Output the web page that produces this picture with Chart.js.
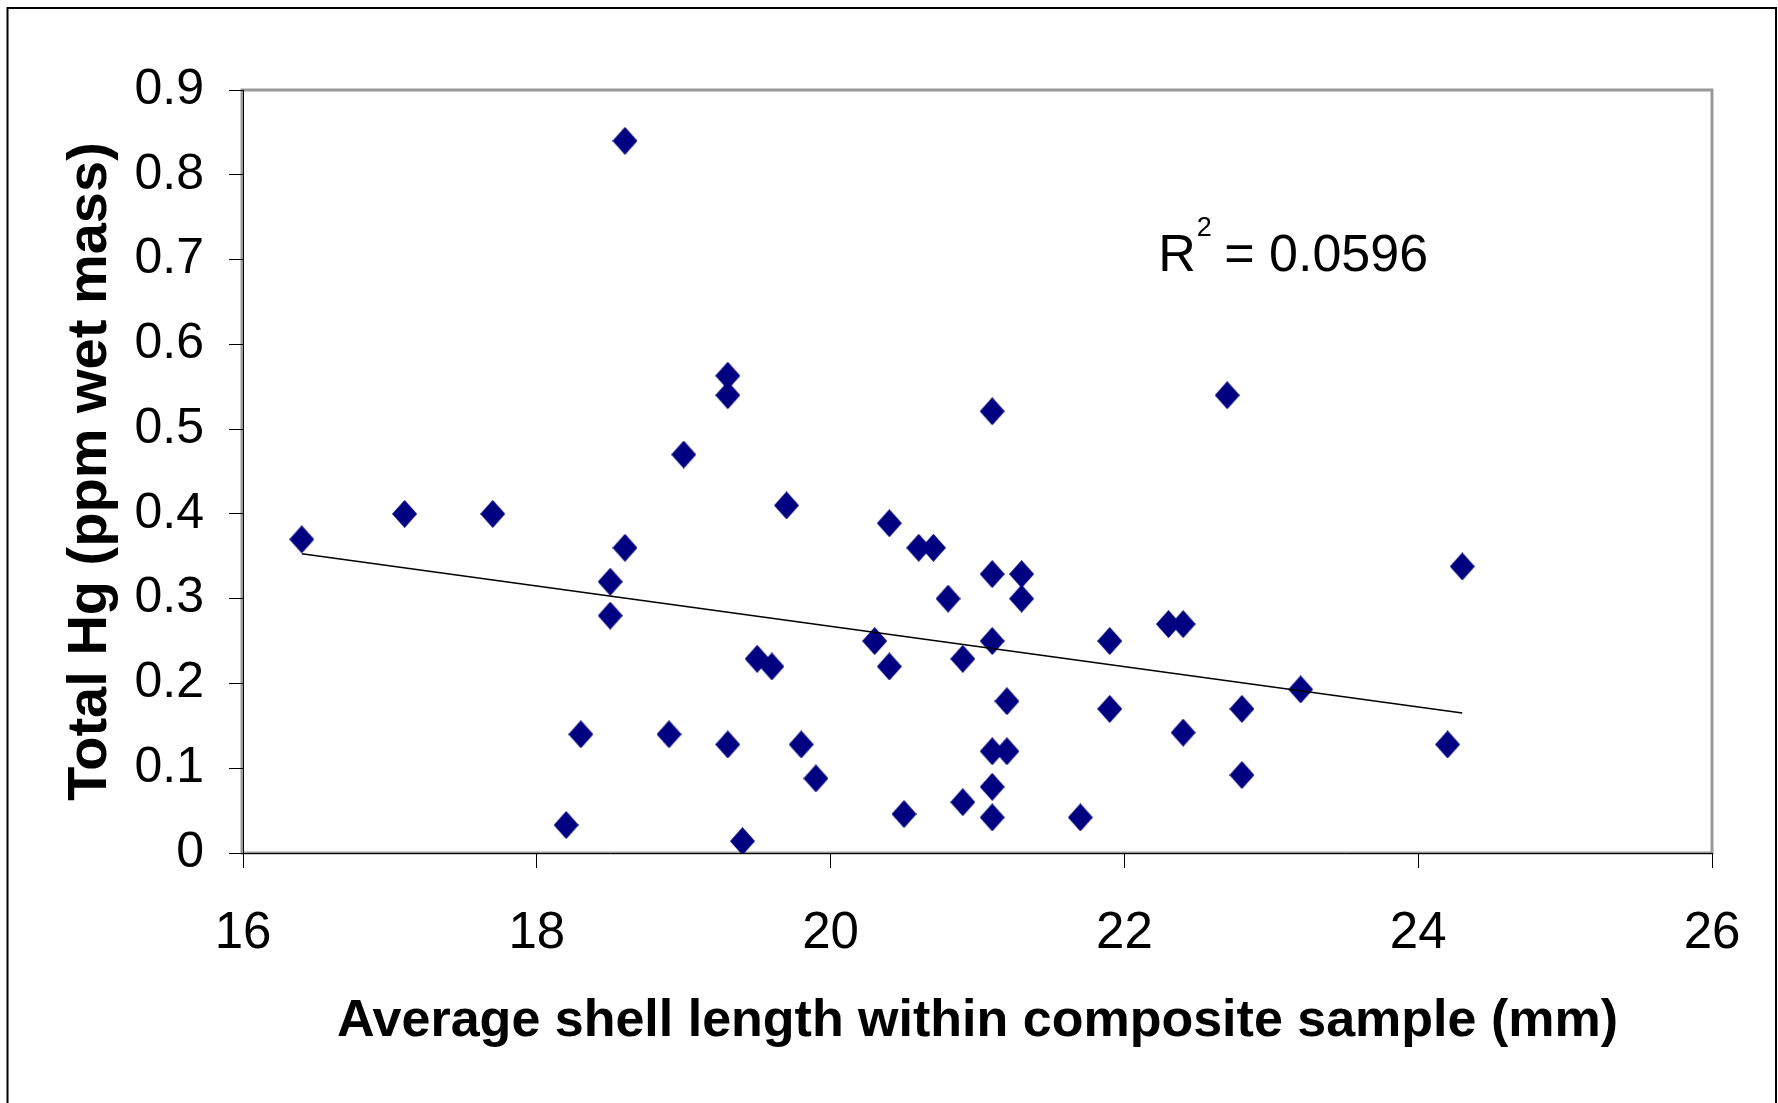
<!DOCTYPE html>
<html>
<head>
<meta charset="utf-8">
<script src="https://cdn.jsdelivr.net/npm/chart.js@4.4.1/dist/chart.umd.min.js"></script>
<style>
  html, body { margin: 0; padding: 0; background: #fff; }
  #wrap { width: 1778px; height: 1103px; position: relative; }
</style>
</head>
<body>
<div id="wrap"><canvas id="chart" width="1778" height="1103"></canvas></div>
<script>
// shell length (mm) and total Hg (ppm wet mass)
const shellLength = [
  16.4, 17.1, 17.7, 18.6, 18.5, 18.5, 18.6, 18.3, 18.2, 18.9,
  19.0, 19.3, 19.3, 19.3, 19.4, 19.5, 19.6, 19.7, 19.8, 19.9,
  20.3, 20.4, 20.4, 20.5, 20.6, 20.7, 20.8, 20.9, 20.9, 21.1,
  21.1, 21.1, 21.1, 21.1, 21.1, 21.2, 21.2, 21.3, 21.3, 21.7,
  21.9, 21.9, 22.3, 22.4, 22.4, 22.7, 22.8, 22.8, 23.2, 24.2,
  24.3
];
const totalHg = [
  0.37, 0.40, 0.40, 0.84, 0.32, 0.28, 0.36, 0.14, 0.033, 0.14,
  0.47, 0.563, 0.54, 0.128, 0.014, 0.229, 0.22, 0.41, 0.128, 0.088,
  0.25, 0.389, 0.22, 0.046, 0.36, 0.36, 0.30, 0.229, 0.06, 0.521,
  0.329, 0.25, 0.12, 0.078, 0.042, 0.12, 0.179, 0.329, 0.30, 0.042,
  0.25, 0.17, 0.27, 0.27, 0.142, 0.54, 0.17, 0.092, 0.193, 0.128,
  0.338
];

// linear trendline end points as drawn
const trendX = [16.4, 24.3];
const trendY = [0.353, 0.165];

const xTickLabels = ['16', '18', '20', '22', '24', '26'];
const yTickLabels = ['0', '0.1', '0.2', '0.3', '0.4', '0.5', '0.6', '0.7', '0.8', '0.9'];

const r2Text = '0.0596';
const r2Pos = [22.23, 0.687];

const NAVY = '#000080';
const FONT = '"Liberation Sans", Arial, sans-serif';

function makeDiamond(w, h, color) {
  const c = document.createElement('canvas');
  c.width = w;
  c.height = h;
  const g = c.getContext('2d');
  g.fillStyle = color;
  g.beginPath();
  g.moveTo(w / 2, 0);
  g.lineTo(w, h / 2);
  g.lineTo(w / 2, h);
  g.lineTo(0, h / 2);
  g.closePath();
  g.fill();
  return c;
}

// outer frame + grey plot-area border
const framePlugin = {
  id: 'frame',
  beforeDraw(chart) {
    const { ctx, chartArea } = chart;
    ctx.save();
    ctx.fillStyle = '#fff';
    ctx.fillRect(0, 0, chart.width, chart.height);
    ctx.strokeStyle = '#000';
    ctx.lineWidth = 2;
    ctx.strokeRect(7.5, 8, 1768.5, 1200);
    ctx.strokeStyle = '#999';
    ctx.lineWidth = 3;
    ctx.strokeRect(chartArea.left - 1, chartArea.top, chartArea.right - chartArea.left + 1, chartArea.bottom - chartArea.top);
    ctx.restore();
  }
};

// R^2 label
const r2Plugin = {
  id: 'r2',
  afterDatasetsDraw(chart) {
    const { ctx, scales } = chart;
    const px = scales.x.getPixelForValue(r2Pos[0]);
    const py = scales.y.getPixelForValue(r2Pos[1]);
    ctx.save();
    ctx.fillStyle = '#000';
    ctx.textBaseline = 'alphabetic';
    ctx.textAlign = 'left';
    ctx.font = '52px ' + FONT;
    ctx.fillText('R', px, py);
    let cx = px + ctx.measureText('R').width + 1;
    ctx.font = '27px ' + FONT;
    ctx.fillText('2', cx, py - 35);
    cx += ctx.measureText('2').width - 2;
    ctx.font = '52px ' + FONT;
    ctx.fillText(' = ' + r2Text, cx, py);
    ctx.restore();
  }
};

const points = shellLength.map((x, i) => ({ x: x, y: totalHg[i] }));
const trend = trendX.map((x, i) => ({ x: x, y: trendY[i] }));

Chart.defaults.color = '#000';

new Chart(document.getElementById('chart'), {
  type: 'scatter',
  data: {
    datasets: [
      {
        type: 'line',
        data: trend,
        borderColor: '#000',
        borderWidth: 1.5,
        pointRadius: 0,
        fill: false,
        order: 0,
      },
      {
        data: points,
        pointStyle: makeDiamond(25, 28, NAVY),
        pointRadius: 13,
        backgroundColor: NAVY,
        borderColor: NAVY,
        order: 1,
      },
    ],
  },
  options: {
    responsive: false,
    animation: false,
    events: [],
    layout: {
      padding: { top: 90, right: 66, left: 0, bottom: 0 },
    },
    plugins: {
      legend: { display: false },
      tooltip: { enabled: false },
    },
    scales: {
      x: {
        type: 'linear',
        min: 16,
        max: 26,
        afterFit: (scale) => { scale.height = 250; },
        border: { color: '#000', width: 1 },
        grid: { drawOnChartArea: false, color: '#000', tickLength: 15, lineWidth: 1 },
        ticks: {
          stepSize: 2,
          padding: 35,
          font: { family: FONT, size: 51 },
          callback: (v, i) => xTickLabels[i],
        },
        title: {
          display: true,
          text: 'Average shell length within composite sample (mm)',
          font: { family: FONT, size: 52, weight: 'bold' },
          padding: { top: 0, bottom: 50 },
        },
      },
      y: {
        min: 0,
        max: 0.9,
        afterFit: (scale) => { scale.width = 243; },
        border: { color: '#000', width: 1 },
        grid: { drawOnChartArea: false, color: '#000', tickLength: 14, lineWidth: 1 },
        ticks: {
          stepSize: 0.1,
          padding: 25,
          font: { family: FONT, size: 50 },
          callback: (v, i) => yTickLabels[i],
        },
        title: {
          display: true,
          text: 'Total Hg (ppm wet mass)',
          font: { family: FONT, size: 56, weight: 'bold' },
          padding: { top: 57, bottom: 0 },
        },
      },
    },
  },
  plugins: [framePlugin, r2Plugin],
});
</script>
</body>
</html>
